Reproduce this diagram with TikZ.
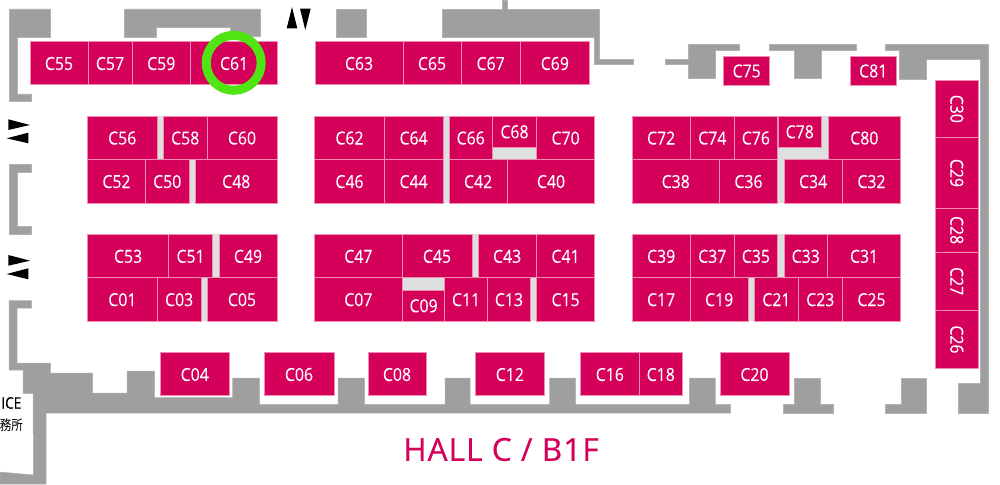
\documentclass[tikz,border=0pt]{standalone}
\usepackage{fontspec}
\setmainfont{Open Sans}
\newfontfamily\cjkjp[FakeStretch=0.82]{Noto Sans CJK JP}
\newfontfamily\boothfont[FakeStretch=0.88,FakeBold=0.15]{Open Sans}
\newfontfamily\icefont[FakeStretch=0.85,FakeBold=0.4]{Open Sans}
\newfontfamily\titlefont[LetterSpace=3.5,FakeBold=0.5]{Open Sans}
\definecolor{boothred}{HTML}{D4005A}
\definecolor{boothline}{HTML}{F08DB0}
\definecolor{wallgrey}{HTML}{9F9F9F}
\definecolor{gapgrey}{HTML}{DDE0DF}
\definecolor{ringgreen}{HTML}{4FE512}
\tikzset{
  boothbox/.style={draw=boothline,fill=boothred,line width=.6pt,inner sep=0pt,text=white,
    font=\boothfont\fontsize{18}{18}\selectfont,text height=13.5pt,text depth=0pt},
  wall/.style={fill=wallgrey,draw=wallgrey!80!white,line width=.5pt},
  gap/.style={fill=gapgrey,draw=none},
  pointer/.style={fill=black,draw=none},
}
% name/label, x1, x2, y1, y2
\newcommand{\booth}[5]{%
  \pgfmathsetmacro{\bw}{#3-#2}\pgfmathsetmacro{\bh}{#5-#4}%
  \pgfmathsetmacro{\bx}{(#2+#3)/2}\pgfmathsetmacro{\by}{(#4+#5)/2}%
  \node[boothbox,minimum width=\bw pt,minimum height=\bh pt] (#1) at (\bx,\by) {#1};}
\newcommand{\vbooth}[5]{%
  \pgfmathsetmacro{\bw}{#3-#2}\pgfmathsetmacro{\bh}{#5-#4}%
  \pgfmathsetmacro{\bx}{(#2+#3)/2}\pgfmathsetmacro{\by}{(#4+#5)/2}%
  \node[boothbox,rotate=-90,minimum width=\bh pt,minimum height=\bw pt] (#1) at (\bx,\by) {#1};}
\begin{document}
\begin{tikzpicture}[x=1pt,y=-1pt]
\useasboundingbox (0,0) rectangle (1000,484);
\fill[white] (0,0) rectangle (1000,484);
% walls
\draw[wall] (9,9)--(50,9)--(50,37)--(17,37)--(17,94)--(31.5,94)--(31.5,101)--(9,101)--cycle;
\draw[wall] (124.5,9)--(260.5,9)--(260.5,36)--(230,36)--(230,27)--(156,27)--(156,37)--(124.5,37)--cycle;
\draw[wall] (9,164.5)--(31.5,164.5)--(31.5,172)--(17,172)--(17,226.5)--(31.5,226.5)--(31.5,234)--(9,234)--cycle;
\draw[wall] (9,300.5)--(31.5,300.5)--(31.5,308)--(17,308)--(17,363)--(50.5,363)--(50.5,373)--(92.5,373)--(92.5,393)--(127,393)--(127,371)--(154.5,371)--(154.5,397.5)--(232.5,397.5)--(232.5,378)--(259.5,378)--(259.5,404.3)--(338,404.3)--(338,378)--(364.7,378)--(364.7,404.3)--(445,404.3)--(445,378)--(470,378)--(470,404.3)--(549.5,404.3)--(549.5,378)--(575.5,378)--(575.5,404.3)--(689.3,404.3)--(689.3,378)--(715.3,378)--(715.3,404.3)--(730.7,404.3)--(730.7,413)--(46,413)--(46,484)--(0,484)--(0,472)--(33.5,475)--(33,393.5)--(23,393.5)--(23,370)--(9,370)--cycle;
\draw[wall] (783.3,404.3)--(794.7,404.3)--(794.7,378)--(820.7,378)--(820.7,404.3)--(833.7,404.3)--(833.7,413)--(783.3,413)--cycle;
\draw[wall] (885,404.3)--(901.7,404.3)--(901.7,378)--(926.7,378)--(926.7,413)--(885,413)--cycle;
\draw[wall] (885.3,44.7)--(988,44.7)--(988,413)--(958.3,413)--(958.3,383.7)--(980,383.7)--(980,59.3)--(926,59.3)--(926,79)--(899.7,79)--(899.7,50.5)--(885.3,50.5)--cycle;
\draw[wall] (336.7,9.3)--(366.7,9.3)--(366.7,37)--(336.7,37)--cycle;
\draw[wall] (442.7,9.3)--(502,9.3)--(502,0)--(507.7,0)--(507.7,9.3)--(599.7,9.3)--(599.7,59.3)--(633.7,59.3)--(633.7,64.3)--(594,64.3)--(594,37)--(442.7,37)--cycle;
\draw[wall] (665.3,59.3)--(688.7,59.3)--(688.7,44.7)--(739,44.7)--(739,50.5)--(715,50.5)--(715,78.5)--(688.7,78.5)--(688.7,64.3)--(665.3,64.3)--cycle;
\draw[wall] (769.7,44.7)--(856,44.7)--(856,50.5)--(821,50.5)--(821,78.5)--(794.7,78.5)--(794.7,50.5)--(769.7,50.5)--cycle;
% gaps
\fill[gap] (157,116) rectangle (163.5,159.5);
\fill[gap] (189,160) rectangle (195.5,203);
\fill[gap] (212.5,234.3) rectangle (219,277.5);
\fill[gap] (201,278) rectangle (207,321);
\fill[gap] (443,116) rectangle (449,203);
\fill[gap] (492.5,147) rectangle (536.5,160);
\fill[gap] (472,234.3) rectangle (478,277.5);
\fill[gap] (402.5,278) rectangle (444.5,290);
\fill[gap] (530.5,278) rectangle (536.5,321);
\fill[gap] (821.5,116)--(828,116)--(828,160)--(784,160)--(784,203)--(778,203)--(778,147)--(821.5,147)--cycle;
\fill[gap] (777,234.3) rectangle (784,277.5);
\fill[gap] (748,278) rectangle (754.5,321);
% top row
\booth{C55}{30}{88}{41.7}{84.7}
\booth{C57}{88}{132}{41.7}{84.7}
\booth{C59}{132}{190.5}{41.7}{84.7}
\booth{C61}{190.5}{277.7}{41.7}{84.7}
\booth{C63}{315.3}{402.8}{41.7}{84.7}
\booth{C65}{402.8}{461.3}{41.7}{84.7}
\booth{C67}{461.3}{520}{41.7}{84.7}
\booth{C69}{520}{589.7}{41.7}{84.7}
\booth{C75}{723.7}{769.7}{56.3}{85}
\booth{C81}{850}{896.5}{56.3}{85}
% row 2
\booth{C56}{87.5}{157}{116}{159.5}
\booth{C58}{163.5}{207}{116}{159.5}
\booth{C60}{207}{277}{116}{159.5}
\booth{C62}{314.7}{384.3}{116}{159.5}
\booth{C64}{384.3}{443}{116}{159.5}
\booth{C66}{449}{492.5}{116}{159.5}
\booth{C68}{492.5}{536.5}{116}{147}
\booth{C70}{536.5}{594.7}{116}{159.5}
\booth{C72}{632}{690.3}{116}{159.5}
\booth{C74}{690.3}{734.3}{116}{159.5}
\booth{C76}{734.3}{777.5}{116}{159.5}
\booth{C78}{778}{821.5}{116}{147}
\booth{C80}{828}{900.7}{116}{159.5}
% row 3
\booth{C52}{87.5}{145.5}{159.5}{203}
\booth{C50}{145.5}{189}{159.5}{203}
\booth{C48}{195.5}{277}{159.5}{203}
\booth{C46}{314.7}{384.3}{159.5}{203}
\booth{C44}{384.3}{443}{159.5}{203}
\booth{C42}{449}{507.3}{159.5}{203}
\booth{C40}{507.3}{594.7}{159.5}{203}
\booth{C38}{632}{719.5}{159.5}{203}
\booth{C36}{719.5}{777.5}{159.5}{203}
\booth{C34}{784}{842.3}{159.5}{203}
\booth{C32}{842.3}{900.7}{159.5}{203}
% row 4
\booth{C53}{87.5}{168.7}{234.3}{277.7}
\booth{C51}{168.7}{212.5}{234.3}{277.7}
\booth{C49}{219}{277}{234.3}{277.7}
\booth{C47}{314.7}{402}{234.3}{277.7}
\booth{C45}{402}{472}{234.3}{277.7}
\booth{C43}{478}{536.3}{234.3}{277.7}
\booth{C41}{536.3}{594.7}{234.3}{277.7}
\booth{C39}{632}{690.3}{234.3}{277.7}
\booth{C37}{690.3}{734.3}{234.3}{277.7}
\booth{C35}{734.3}{777.5}{234.3}{277.7}
\booth{C33}{784}{827.5}{234.3}{277.7}
\booth{C31}{827.5}{900.7}{234.3}{277.7}
% row 5
\booth{C01}{87.5}{157.3}{277.7}{321}
\booth{C03}{157.3}{201}{277.7}{321}
\booth{C05}{207}{277}{277.7}{321}
\booth{C07}{314.7}{402}{277.7}{321}
\booth{C09}{402.5}{444.7}{290}{321}
\booth{C11}{444.7}{487.5}{277.7}{321}
\booth{C13}{487.5}{530.5}{277.7}{321}
\booth{C15}{536.5}{594.7}{277.7}{321}
\booth{C17}{632}{690.3}{277.7}{321}
\booth{C19}{690.3}{748}{277.7}{321}
\booth{C21}{754.5}{798.3}{277.7}{321}
\booth{C23}{798.3}{842.3}{277.7}{321}
\booth{C25}{842.3}{900.7}{277.7}{321}
% bottom row
\booth{C04}{160}{229.5}{352.7}{395.7}
\booth{C06}{264}{334}{352.7}{395.7}
\booth{C08}{368}{426}{352.7}{395.7}
\booth{C12}{475}{544.7}{352.7}{395.7}
\booth{C16}{580.7}{639}{352.7}{395.7}
\booth{C18}{639}{682.5}{352.7}{395.7}
\booth{C20}{720}{789}{352.7}{395.7}
% right column
\vbooth{C30}{935.7}{978.5}{80}{137.7}
\vbooth{C29}{935.7}{978.5}{137.7}{208.3}
\vbooth{C28}{935.7}{978.5}{208.3}{252}
\vbooth{C27}{935.7}{978.5}{252}{310.3}
\vbooth{C26}{935.7}{978.5}{310.3}{368.7}
% pointers
\fill[pointer] (286.7,28.3)--(297.3,28.3)--(292,7)--cycle;
\fill[pointer] (300,8.7)--(310.7,8.7)--(305.3,30)--cycle;
\fill[pointer] (8.3,119.3)--(30,125)--(8.3,130)--cycle;
\fill[pointer] (6.7,138.3)--(28.3,132.7)--(28.3,143.3)--cycle;
\fill[pointer] (8.3,255)--(30,260.7)--(8.3,265.7)--cycle;
\fill[pointer] (6.7,274)--(28.3,268.3)--(28.3,279.3)--cycle;
% highlight ring
\coordinate (ring) at (233.7,62.8);
\draw[ringgreen,line width=9pt] (ring) circle[radius=27.5pt];
% texts
\node[anchor=east,inner sep=0pt,font=\icefont\fontsize{16}{16}\selectfont] (ice) at (21.5,403) {ICE};
\node[anchor=east,inner sep=0pt,font=\cjkjp\fontsize{14}{14}\selectfont] (office) at (23,425) {務所};
\node[anchor=center,inner sep=0pt,text=boothred,font=\titlefont\fontsize{31.5}{31.5}\selectfont] (title) at (501,449.5) {HALL C / B1F};
\end{tikzpicture}
\end{document}
